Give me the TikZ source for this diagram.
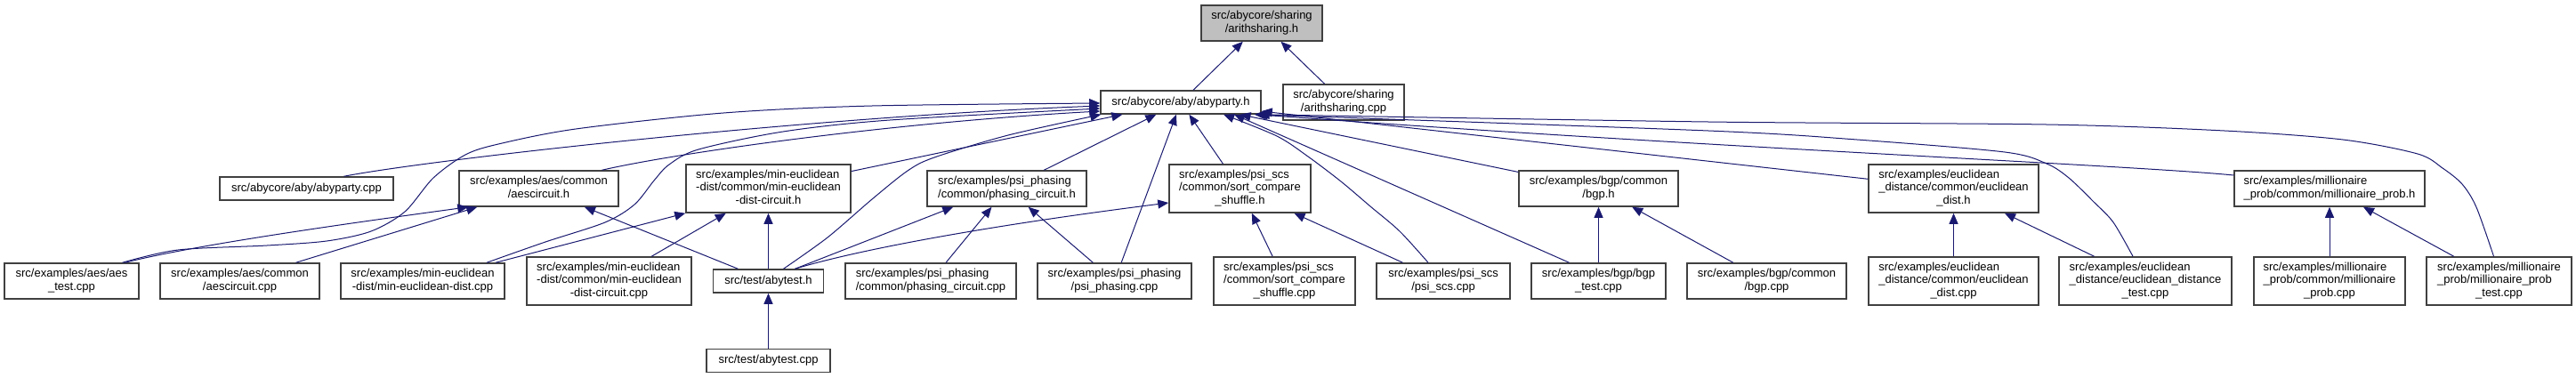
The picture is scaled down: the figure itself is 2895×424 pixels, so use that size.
\documentclass[tikz,border=0pt]{standalone}
\usepackage{fontspec}
\setmainfont{Liberation Sans}
\usetikzlibrary{arrows.meta,calc}
\definecolor{midnight}{HTML}{191970}
\newcommand{\lbl}[2]{\begin{tabular}{@{}l@{}}#1\\\multicolumn{1}{@{}c@{}}{#2}\end{tabular}}
\tikzset{
 box/.style={draw=black!75, line width=1.5pt, fill=white, inner sep=0pt, font=\fontsize{13}{14.5}\selectfont},
 sz/.style 2 args={minimum width=#1pt, minimum height=#2pt},
 edge/.style={draw=midnight, line width=1pt, -{Triangle[length=12pt,width=10pt]}},
}
\begin{document}
\begin{tikzpicture}[x=1pt,y=-1pt]
\useasboundingbox (0,0) rectangle (2895,424);
% row 0 / 1
\node[box,sz={136}{40},fill=black!25] (arithH) at (1418,26) {\lbl{src/abycore/sharing}{/arithsharing.h}};
\node[box,sz={136}{40}] (arithCpp) at (1510,115) {\lbl{src/abycore/sharing}{/arithsharing.cpp}};
\node[box,sz={180}{26}] (abypartyH) at (1327,115) {src/abycore/aby/abyparty.h};
% row 2
\node[box,sz={195}{26}] (abypartyCpp) at (344.5,212) {src/abycore/aby/abyparty.cpp};
\node[box,sz={179}{40}] (aescircuitH) at (605.5,212) {\lbl{src/examples/aes/common}{/aescircuit.h}};
\node[box,sz={185}{54}] (mecircH) at (863.5,212) {\lbl{src/examples/min-euclidean\\-dist/common/min-euclidean}{-dist-circuit.h}};
\node[box,sz={179}{40}] (phasingH) at (1131.5,212) {\lbl{src/examples/psi\_phasing}{/common/phasing\_circuit.h}};
\node[box,sz={159}{54}] (scsH) at (1393.5,212) {\lbl{src/examples/psi\_scs\\/common/sort\_compare}{\_shuffle.h}};
\node[box,sz={179}{40}] (bgpH) at (1796.5,212) {\lbl{src/examples/bgp/common}{/bgp.h}};
\node[box,sz={191}{54}] (euclH) at (2195.5,212) {\lbl{src/examples/euclidean\\\_distance/common/euclidean}{\_dist.h}};
\node[box,sz={214}{40}] (millH) at (2618,212) {\lbl{src/examples/millionaire}{\_prob/common/millionaire\_prob.h}};
% row 3
\node[box,sz={151}{40}] (aesTest) at (80.5,316) {\lbl{src/examples/aes/aes}{\_test.cpp}};
\node[box,sz={179}{40}] (aescircuitCpp) at (269.5,316) {\lbl{src/examples/aes/common}{/aescircuit.cpp}};
\node[box,sz={184}{40}] (medistCpp) at (475,316) {\lbl{src/examples/min-euclidean}{-dist/min-euclidean-dist.cpp}};
\node[box,sz={185}{54}] (mecircCpp) at (684.5,316) {\lbl{src/examples/min-euclidean\\-dist/common/min-euclidean}{-dist-circuit.cpp}};
\node[box,sz={124}{26}] (abytestH) at (863.5,316) {src/test/abytest.h};
\node[box,sz={192}{40}] (phasingCpp) at (1046,316) {\lbl{src/examples/psi\_phasing}{/common/phasing\_circuit.cpp}};
\node[box,sz={173}{40}] (psiphasingCpp) at (1252.5,316) {\lbl{src/examples/psi\_phasing}{/psi\_phasing.cpp}};
\node[box,sz={159}{54}] (scsCpp) at (1443.5,316) {\lbl{src/examples/psi\_scs\\/common/sort\_compare}{\_shuffle.cpp}};
\node[box,sz={150}{40}] (psiscsCpp) at (1622,316) {\lbl{src/examples/psi\_scs}{/psi\_scs.cpp}};
\node[box,sz={151}{40}] (bgptestCpp) at (1796.5,316) {\lbl{src/examples/bgp/bgp}{\_test.cpp}};
\node[box,sz={179}{40}] (bgpCpp) at (1985.5,316) {\lbl{src/examples/bgp/common}{/bgp.cpp}};
\node[box,sz={191}{54}] (euclCpp) at (2195.5,316) {\lbl{src/examples/euclidean\\\_distance/common/euclidean}{\_dist.cpp}};
\node[box,sz={194}{54}] (eucltestCpp) at (2411,316) {\lbl{src/examples/euclidean\\\_distance/euclidean\_distance}{\_test.cpp}};
\node[box,sz={170}{54}] (millCpp) at (2618,316) {\lbl{src/examples/millionaire\\\_prob/common/millionaire}{\_prob.cpp}};
\node[box,sz={163}{54}] (milltestCpp) at (2808.5,316) {\lbl{src/examples/millionaire\\\_prob/millionaire\_prob}{\_test.cpp}};
% row 4
\node[box,sz={139}{26}] (abytestCpp) at (863.5,405.5) {src/test/abytest.cpp};

% straight edges
\draw[edge] (abypartyH) -- (arithH);
\draw[edge] (arithCpp) -- (arithH);
\draw[edge] (mecircH) -- (abypartyH);
\draw[edge] (phasingH) -- (abypartyH);
\draw[edge] (psiphasingCpp) -- (abypartyH);
\draw[edge] (scsH) -- (abypartyH);
\draw[edge] (bgpH) -- (abypartyH);
\draw[edge] (euclH) -- (abypartyH);
\draw[edge] (abytestH) -- (aescircuitH);
\draw[edge] (mecircCpp) -- (mecircH);
\draw[edge] (abytestH) -- (mecircH);
\draw[edge] (abytestCpp) -- (abytestH);
\draw[edge] (phasingCpp) -- (phasingH);
\draw[edge] (psiphasingCpp) -- (phasingH);
\draw[edge] (scsCpp) -- (scsH);
\draw[edge] (psiscsCpp) -- (scsH);
\draw[edge] (bgptestCpp) -- (bgpH);
\draw[edge] (bgpCpp) -- (bgpH);
\draw[edge] (euclCpp) -- (euclH);
\draw[edge] (eucltestCpp) -- (euclH);
\draw[edge] (millCpp) -- (millH);
\draw[edge] (milltestCpp) -- (millH);

% offset edges
\draw[edge] ($(abypartyCpp.north)+(42,0)$) .. controls (480,180) and (900,132) .. ($(abypartyH.west)+(0,4)$);
\draw[edge] ($(aescircuitH.north)+(71,0)$) .. controls (760,172) and (1000,138) .. ($(abypartyH.west)+(0,10)$);
\draw[edge] ($(aesTest.north)+(60,0)$) .. controls (220,275) and (400,250) .. ($(aescircuitH.south west)+(11,0)$);
\draw[edge] ($(aescircuitCpp.north)+(63,0)$) -- ($(aescircuitH.south west)+(21,0)$);
\draw[edge] ($(medistCpp.north)+(82,0)$) -- (mecircH.south west);
\draw[edge] ($(abytestH.north)+(30,0)$) -- ($(phasingH.south west)+(30,0)$);
\draw[edge] ($(abytestH.north)+(30,0)$) .. controls (960,282) and (1100,255) .. ($(scsH.west)+(0,16)$);
\draw[edge] ($(bgptestCpp.north)+(-33,0)$) -- ($(abypartyH.south)+(60,0)$);
\draw[edge] ($(millH.west)+(0,-15)$) .. controls (2400,186) and (1900,165) .. ($(abypartyH.south east)+(-5,0)$);

% curved edges
\coordinate (a1) at ($(aesTest.north)+(57,0)$);
\coordinate (a2) at ($(abypartyH.west)+(0,1)$);
\draw[edge] plot[smooth,tension=0.5] coordinates {(a1) (200,281) (300,276) (367,271) (417,260) (455,238) (487,200) (523,174) (560,162) (647,145) (813,127) (980,119) (a2)};
\coordinate (m1) at ($(medistCpp.north)+(72,0)$);
\coordinate (m2) at ($(abypartyH.west)+(0,7)$);
\draw[edge] plot[smooth,tension=0.5] coordinates {(m1) (613,272) (680,250) (713,230) (735,203) (752,185) (785,168) (880,148) (1000,135) (m2)};
\coordinate (t1) at ($(abytestH.north)+(17,0)$);
\coordinate (t2) at ($(abypartyH.south west)+(1,0)$);
\draw[edge] plot[smooth,tension=0.5] coordinates {(t1) (930,267) (980,224) (1020,192) (1050,177) (1133,152) (t2)};
\coordinate (p1) at ($(psiscsCpp.north)+(-17,0)$);
\coordinate (p2) at ($(abypartyH.south)+(48,0)$);
\draw[edge] plot[smooth,tension=0.5] coordinates {(p1) (1573,260) (1540,232) (1507,204) (1470,176) (1435,153) (p2)};
\coordinate (e1) at ($(eucltestCpp.north)+(-14,0)$);
\coordinate (e2) at ($(abypartyH.south east)+(-8,0)$);
\draw[edge] plot[smooth,tension=0.5] coordinates {(e1) (2375,250) (2353,227) (2325,200) (2300,184) (2253,171) (2087,157) (1920,147) (e2)};
\coordinate (q1) at ($(milltestCpp.north)+(-6,0)$);
\coordinate (q2) at ($(abypartyH.south east)+(-3,0)$);
\draw[edge] plot[smooth,tension=0.5] coordinates {(q1) (2783,233) (2767,207) (2745,189) (2717,173) (2633,157) (2500,147) (2300,140) (1920,137) (q2)};
\end{tikzpicture}
\end{document}
